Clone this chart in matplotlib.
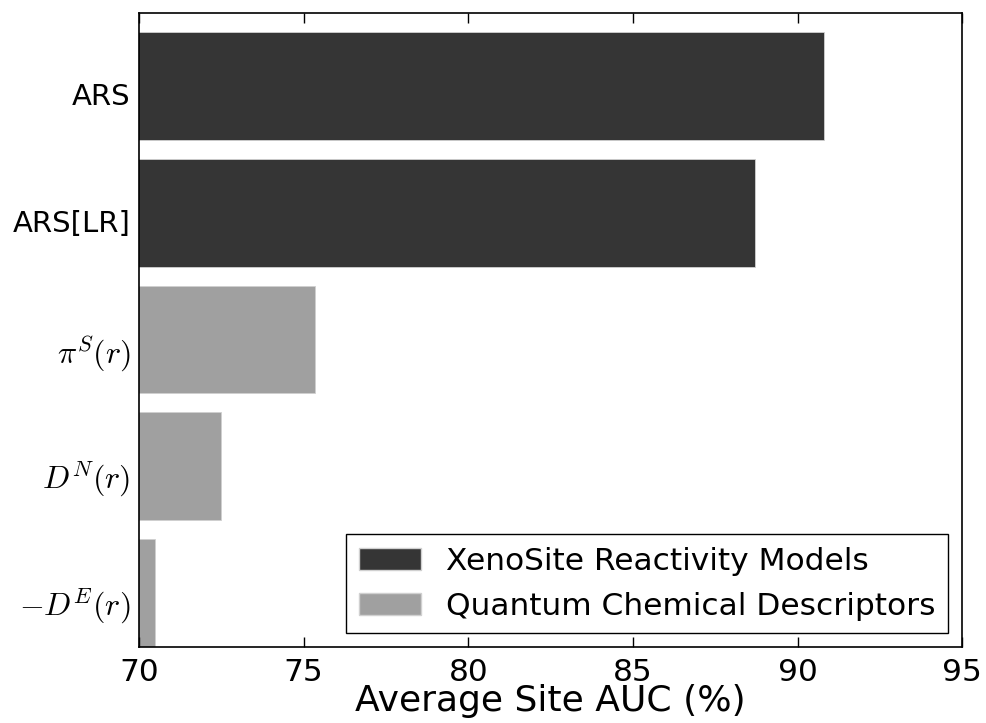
import matplotlib
matplotlib.use("Agg")
import matplotlib.pyplot as plt
from matplotlib.patches import Patch

plt.rcParams['font.family'] = ['DejaVu Sans']
plt.rcParams['mathtext.fontset'] = 'cm'

labels = ['ARS', 'ARS[LR]', r'$\pi^S(r)$', r'$D^N(r)$', r'$-D^E(r)$']
auc = [90.8, 88.7, 75.35, 72.5, 70.5]
group = ['model', 'model', 'desc', 'desc', 'desc']

colors = {'model': '#353535', 'desc': '#a0a0a0'}
names = {'model': 'XenoSite Reactivity Models',
         'desc': 'Quantum Chemical Descriptors'}

fig = plt.figure(figsize=(9.86, 7.23), dpi=100)
ax = fig.add_axes([0.141, 0.105, 0.835, 0.877])

n = len(labels)
ypos = [n - 1 - i for i in range(n)]
ax.barh(ypos, auc, height=0.85, align='edge',
        color=[colors[g] for g in group], edgecolor='#d0d0d0', linewidth=0.6)

ax.set_xlim(70, 95)
ax.set_ylim(0, 5)
ax.set_yticks([y + 0.36 for y in ypos])
ax.set_yticklabels(labels, fontsize=21)
# the mathtext labels render a bit smaller, so bump them
for t in ax.get_yticklabels():
    if t.get_text().startswith('$'):
        t.set_fontsize(23)
ax.set_xticks([70, 75, 80, 85, 90, 95])
ax.tick_params(axis='x', labelsize=22.5, direction='in', length=7, width=1,
               top=True, pad=8)
ax.tick_params(axis='y', length=0, pad=6)
ax.set_xlabel('Average Site AUC (%)', fontsize=26, labelpad=-2)
for sp in ax.spines.values():
    sp.set_linewidth(1.2)

handles = [Patch(facecolor=colors[k], edgecolor='#d0d0d0', label=names[k])
           for k in ['model', 'desc']]
leg = ax.legend(handles=handles, loc='lower right', fontsize=22.5,
                fancybox=False, framealpha=1, edgecolor='black',
                borderaxespad=0.45)
leg.get_frame().set_linewidth(1.0)

fig.savefig('out.png', dpi=100)
